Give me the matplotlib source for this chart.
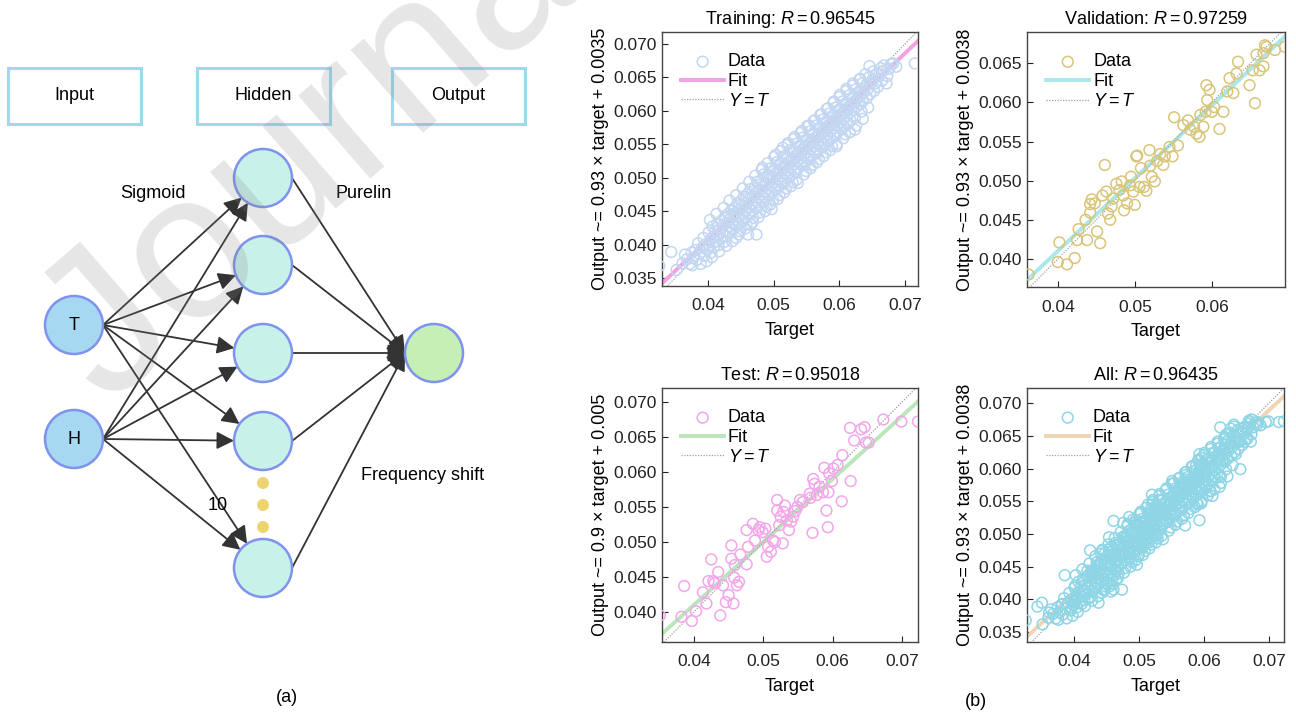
import numpy as np
import matplotlib.pyplot as plt
from matplotlib.patches import Circle, Rectangle, FancyArrowPatch
from matplotlib.ticker import FormatStrFormatter

plt.rcParams['font.family'] = ['Liberation Sans', 'DejaVu Sans']
plt.rcParams['mathtext.fontset'] = 'custom'
plt.rcParams['mathtext.rm'] = 'Liberation Sans'
plt.rcParams['mathtext.it'] = 'Liberation Sans:italic'

# ---- regression data (target, output) ----
train_pts = np.array([
    (0.0326, 0.0368), (0.0344, 0.0389), (0.0352, 0.0362),
    (0.0361, 0.0372), (0.0365, 0.0385), (0.0368, 0.0378),
    (0.0372, 0.0371), (0.0375, 0.0388), (0.0378, 0.0380), (0.0376, 0.0369),
    (0.0381, 0.0392), (0.0383, 0.0377), (0.0385, 0.0402), (0.0387, 0.0386), (0.0389, 0.0371),
    (0.0391, 0.0395), (0.0393, 0.0410), (0.0395, 0.0383), (0.0396, 0.0400), (0.0398, 0.0375), (0.0399, 0.0392),
    (0.0401, 0.0418), (0.0402, 0.0399), (0.0404, 0.0408), (0.0405, 0.0388), (0.0407, 0.0427), (0.0408, 0.0412), (0.0409, 0.0396),
    (0.0411, 0.0420), (0.0412, 0.0404), (0.0414, 0.0431), (0.0415, 0.0413), (0.0416, 0.0399), (0.0418, 0.0423), (0.0419, 0.0408),
    (0.0421, 0.0436), (0.0422, 0.0418), (0.0423, 0.0429), (0.0425, 0.0404), (0.0426, 0.0442), (0.0427, 0.0421), (0.0428, 0.0432), (0.0429, 0.0412),
    (0.0431, 0.0446), (0.0432, 0.0427), (0.0433, 0.0438), (0.0434, 0.0418), (0.0436, 0.0452), (0.0437, 0.0433), (0.0438, 0.0423), (0.0439, 0.0444), (0.0443, 0.0410),
    (0.0441, 0.0455), (0.0442, 0.0437), (0.0443, 0.0448), (0.0444, 0.0428), (0.0445, 0.0462), (0.0446, 0.0441), (0.0447, 0.0431), (0.0448, 0.0452), (0.0449, 0.0420),
    (0.0451, 0.0466), (0.0452, 0.0447), (0.0453, 0.0458), (0.0454, 0.0436), (0.0455, 0.0472), (0.0456, 0.0450), (0.0457, 0.0441), (0.0458, 0.0462), (0.0459, 0.0430), (0.0461, 0.0415),
    (0.0461, 0.0476), (0.0462, 0.0456), (0.0463, 0.0468), (0.0464, 0.0446), (0.0465, 0.0483), (0.0466, 0.0460), (0.0467, 0.0451), (0.0468, 0.0472), (0.0469, 0.0440), (0.0465, 0.0430),
    (0.0471, 0.0485), (0.0472, 0.0466), (0.0473, 0.0477), (0.0474, 0.0455), (0.0475, 0.0494), (0.0476, 0.0470), (0.0477, 0.0460), (0.0478, 0.0482), (0.0474, 0.0415), (0.0479, 0.0448),
    (0.0481, 0.0495), (0.0482, 0.0475), (0.0483, 0.0487), (0.0484, 0.0464), (0.0485, 0.0505), (0.0486, 0.0479), (0.0487, 0.0469), (0.0488, 0.0492), (0.0489, 0.0457), (0.0483, 0.0515),
    (0.0491, 0.0504), (0.0492, 0.0484), (0.0493, 0.0497), (0.0494, 0.0473), (0.0495, 0.0514), (0.0496, 0.0489), (0.0497, 0.0478), (0.0498, 0.0502), (0.0499, 0.0466), (0.0497, 0.0453),
    (0.0501, 0.0513), (0.0502, 0.0493), (0.0503, 0.0506), (0.0504, 0.0482), (0.0505, 0.0523), (0.0506, 0.0498), (0.0507, 0.0487), (0.0508, 0.0511), (0.0509, 0.0474), (0.0503, 0.0534),
    (0.0511, 0.0522), (0.0512, 0.0502), (0.0513, 0.0515), (0.0514, 0.0491), (0.0515, 0.0532), (0.0516, 0.0507), (0.0517, 0.0496), (0.0518, 0.0520), (0.0519, 0.0484), (0.0514, 0.0545),
    (0.0521, 0.0531), (0.0522, 0.0511), (0.0523, 0.0524), (0.0524, 0.0500), (0.0525, 0.0541), (0.0526, 0.0516), (0.0527, 0.0505), (0.0528, 0.0529), (0.0529, 0.0493), (0.0522, 0.0552),
    (0.0531, 0.0540), (0.0532, 0.0520), (0.0533, 0.0533), (0.0534, 0.0509), (0.0535, 0.0551), (0.0536, 0.0525), (0.0537, 0.0514), (0.0538, 0.0538), (0.0537, 0.0492), (0.0532, 0.0561),
    (0.0541, 0.0549), (0.0542, 0.0529), (0.0543, 0.0542), (0.0544, 0.0518), (0.0545, 0.0560), (0.0546, 0.0534), (0.0547, 0.0523), (0.0548, 0.0547), (0.0549, 0.0510), (0.0543, 0.0570),
    (0.0551, 0.0558), (0.0552, 0.0538), (0.0553, 0.0551), (0.0554, 0.0527), (0.0555, 0.0569), (0.0556, 0.0543), (0.0557, 0.0532), (0.0558, 0.0556), (0.0559, 0.0519), (0.0554, 0.0578),
    (0.0561, 0.0567), (0.0562, 0.0547), (0.0563, 0.0560), (0.0564, 0.0536), (0.0565, 0.0578), (0.0566, 0.0552), (0.0567, 0.0541), (0.0568, 0.0565), (0.0569, 0.0528), (0.0563, 0.0586),
    (0.0571, 0.0576), (0.0572, 0.0556), (0.0573, 0.0569), (0.0574, 0.0545), (0.0575, 0.0587), (0.0576, 0.0561), (0.0577, 0.0550), (0.0578, 0.0574), (0.0579, 0.0538), (0.0573, 0.0595),
    (0.0581, 0.0585), (0.0582, 0.0565), (0.0583, 0.0578), (0.0584, 0.0554), (0.0585, 0.0596), (0.0586, 0.0570), (0.0587, 0.0559), (0.0588, 0.0583), (0.0589, 0.0547), (0.0583, 0.0604),
    (0.0591, 0.0594), (0.0592, 0.0574), (0.0593, 0.0587), (0.0594, 0.0563), (0.0595, 0.0605), (0.0596, 0.0579), (0.0597, 0.0568), (0.0598, 0.0592), (0.0596, 0.0547), (0.0592, 0.0614),
    (0.0601, 0.0603), (0.0602, 0.0583), (0.0603, 0.0596), (0.0604, 0.0572), (0.0605, 0.0614), (0.0606, 0.0588), (0.0607, 0.0577), (0.0608, 0.0601), (0.0609, 0.0565), (0.0601, 0.0624),
    (0.0611, 0.0612), (0.0612, 0.0592), (0.0613, 0.0605), (0.0614, 0.0581), (0.0615, 0.0623), (0.0616, 0.0597), (0.0617, 0.0586), (0.0618, 0.0610), (0.0611, 0.0633),
    (0.0621, 0.0621), (0.0622, 0.0601), (0.0623, 0.0614), (0.0624, 0.0590), (0.0625, 0.0632), (0.0626, 0.0606), (0.0624, 0.0572), (0.0628, 0.0619), (0.0621, 0.0641),
    (0.0631, 0.0630), (0.0632, 0.0610), (0.0633, 0.0623), (0.0634, 0.0599), (0.0635, 0.0641), (0.0636, 0.0615), (0.0638, 0.0628), (0.0632, 0.0648),
    (0.0641, 0.0639), (0.0642, 0.0619), (0.0643, 0.0632), (0.0645, 0.0650), (0.0646, 0.0667), (0.0647, 0.0625), (0.0648, 0.0641),
    (0.0651, 0.0647), (0.0652, 0.0659), (0.0653, 0.0630), (0.0655, 0.0641), (0.0657, 0.0655), (0.0659, 0.0636),
    (0.0661, 0.0655), (0.0663, 0.0664), (0.0665, 0.0645), (0.0667, 0.0660), (0.0668, 0.0668), (0.0672, 0.0641),
    (0.0673, 0.0652), (0.0676, 0.0663), (0.0679, 0.0670), (0.0682, 0.0671), (0.0687, 0.0666), (0.0715, 0.0671),
    # outer edge of the band
    (0.0403, 0.0437), (0.0406, 0.0381), (0.0413, 0.0446), (0.0417, 0.0390),
    (0.0424, 0.0455), (0.0428, 0.0398), (0.0433, 0.0466), (0.0437, 0.0405),
    (0.0443, 0.0474), (0.0447, 0.0415), (0.0453, 0.0484), (0.0457, 0.0424),
    (0.0463, 0.0494), (0.0468, 0.0433), (0.0472, 0.0503), (0.0477, 0.0441),
    (0.0482, 0.0512), (0.0487, 0.0450), (0.0491, 0.0522), (0.0495, 0.0460),
    (0.0501, 0.0531), (0.0506, 0.0468), (0.0511, 0.0540), (0.0516, 0.0478),
    (0.0521, 0.0549), (0.0526, 0.0487), (0.0531, 0.0558), (0.0535, 0.0497),
    (0.0541, 0.0567), (0.0546, 0.0505), (0.0551, 0.0577), (0.0556, 0.0514),
    (0.0561, 0.0585), (0.0566, 0.0523), (0.0571, 0.0594), (0.0576, 0.0532),
    (0.0581, 0.0603), (0.0586, 0.0541), (0.0591, 0.0612), (0.0596, 0.0550),
    (0.0601, 0.0621), (0.0606, 0.0559), (0.0611, 0.0630), (0.0616, 0.0568),
    (0.0621, 0.0638), (0.0626, 0.0578), (0.0631, 0.0647), (0.0636, 0.0588),
    (0.0640, 0.0655), (0.0644, 0.0605),
])

val_pts = np.array([
    (0.0362, 0.0380), (0.0402, 0.0421), (0.0400, 0.0396), (0.0412, 0.0393), (0.0422, 0.0401),
    (0.0425, 0.0424), (0.0427, 0.0438), (0.0438, 0.0424), (0.0436, 0.0450), (0.0442, 0.0459),
    (0.0442, 0.0470), (0.0444, 0.0476), (0.0448, 0.0471), (0.0451, 0.0435), (0.0455, 0.0420),
    (0.0458, 0.0481), (0.0461, 0.0520), (0.0463, 0.0486), (0.0465, 0.0458), (0.0468, 0.0450),
    (0.0470, 0.0467), (0.0472, 0.0477), (0.0476, 0.0496), (0.0480, 0.0488), (0.0483, 0.0499),
    (0.0485, 0.0481), (0.0486, 0.0462), (0.0490, 0.0471), (0.0494, 0.0494), (0.0495, 0.0505),
    (0.0498, 0.0486), (0.0500, 0.0469), (0.0502, 0.0531), (0.0503, 0.0532), (0.0506, 0.0492),
    (0.0508, 0.0516), (0.0512, 0.0492), (0.0515, 0.0487), (0.0519, 0.0539), (0.0520, 0.0519),
    (0.0522, 0.0505), (0.0526, 0.0499), (0.0529, 0.0525), (0.0533, 0.0534), (0.0537, 0.0520),
    (0.0539, 0.0531), (0.0545, 0.0543), (0.0549, 0.0531), (0.0556, 0.0545), (0.0551, 0.0581),
    (0.0563, 0.0571), (0.0569, 0.0577), (0.0572, 0.0565), (0.0577, 0.0569), (0.0580, 0.0560),
    (0.0584, 0.0556), (0.0585, 0.0584), (0.0589, 0.0569), (0.0592, 0.0588), (0.0594, 0.0603),
    (0.0593, 0.0622), (0.0597, 0.0616), (0.0600, 0.0588), (0.0603, 0.0594), (0.0610, 0.0566),
    (0.0615, 0.0588), (0.0620, 0.0614), (0.0623, 0.0631), (0.0628, 0.0612), (0.0632, 0.0637),
    (0.0634, 0.0652), (0.0649, 0.0622), (0.0656, 0.0599), (0.0658, 0.0661), (0.0662, 0.0641),
    (0.0667, 0.0646), (0.0669, 0.0673), (0.0671, 0.0671), (0.0682, 0.0667), (0.0695, 0.0671),
    (0.0653, 0.0641), (0.0667, 0.0663),
])

test_pts = np.array([
    (0.0351, 0.0395), (0.0382, 0.0393), (0.0386, 0.0437), (0.0397, 0.0387), (0.0403, 0.0401),
    (0.0413, 0.0428), (0.0418, 0.0412), (0.0421, 0.0444), (0.0425, 0.0475), (0.0428, 0.0444),
    (0.0430, 0.0441), (0.0435, 0.0457), (0.0438, 0.0395), (0.0442, 0.0438), (0.0446, 0.0414),
    (0.0450, 0.0424), (0.0454, 0.0495), (0.0454, 0.0476), (0.0457, 0.0412), (0.0458, 0.0449),
    (0.0459, 0.0467), (0.0462, 0.0438), (0.0465, 0.0443), (0.0467, 0.0482), (0.0476, 0.0468),
    (0.0476, 0.0517), (0.0478, 0.0493), (0.0485, 0.0526), (0.0488, 0.0502), (0.0493, 0.0517),
    (0.0495, 0.0521), (0.0499, 0.0514), (0.0503, 0.0519), (0.0505, 0.0479), (0.0507, 0.0493),
    (0.0511, 0.0486), (0.0514, 0.0502), (0.0517, 0.0500), (0.0520, 0.0560), (0.0520, 0.0545),
    (0.0523, 0.0524), (0.0525, 0.0536), (0.0528, 0.0498), (0.0529, 0.0543), (0.0531, 0.0552),
    (0.0534, 0.0531), (0.0537, 0.0517), (0.0540, 0.0529), (0.0543, 0.0536), (0.0546, 0.0544),
    (0.0549, 0.0550), (0.0553, 0.0560), (0.0557, 0.0557), (0.0567, 0.0569), (0.0568, 0.0563),
    (0.0571, 0.0513), (0.0572, 0.0590), (0.0574, 0.0583), (0.0577, 0.0567), (0.0581, 0.0579),
    (0.0586, 0.0571), (0.0588, 0.0606), (0.0591, 0.0545), (0.0593, 0.0521), (0.0594, 0.0571),
    (0.0595, 0.0598), (0.0599, 0.0587), (0.0601, 0.0605), (0.0607, 0.0610), (0.0613, 0.0558),
    (0.0614, 0.0624), (0.0626, 0.0587), (0.0625, 0.0663), (0.0631, 0.0645), (0.0641, 0.0661),
    (0.0646, 0.0664), (0.0648, 0.0642), (0.0652, 0.0642), (0.0673, 0.0675), (0.0699, 0.0672),
    (0.0723, 0.0672),
])

all_pts = np.concatenate([train_pts, val_pts, test_pts])

set_names = ['Training', 'Validation', 'Test', 'All']
r_values = [0.96545, 0.97259, 0.95018, 0.96435]
slopes = [0.93, 0.93, 0.9, 0.93]
intercepts = [0.0035, 0.0038, 0.005, 0.0038]
point_sets = [train_pts, val_pts, test_pts, all_pts]

data_colors = ['#c3d7f2', '#d9c57a', '#f3a6ea', '#8ed5e6']
fit_colors = ['#f2a2e4', '#a9e8ea', '#b9e7b9', '#f0d5b5']

# axes placement / limits (figure pixels 1296 x 715)
ax_boxes = [(662, 32, 918, 286), (1027, 32, 1285, 287),
            (662, 388, 918, 642), (1027, 388, 1284, 642)]
x_lims = [(0.033, 0.072), (0.036, 0.0695), (0.0354, 0.0723), (0.0328, 0.0723)]
y_lims = [(0.0338, 0.0718), (0.0364, 0.069), (0.0357, 0.072), (0.0335, 0.0723)]
x_ticks = [[0.04, 0.05, 0.06, 0.07], [0.04, 0.05, 0.06],
           [0.04, 0.05, 0.06, 0.07], [0.04, 0.05, 0.06, 0.07]]
y_ticks = [[0.035, 0.040, 0.045, 0.050, 0.055, 0.060, 0.065, 0.070],
           [0.040, 0.045, 0.050, 0.055, 0.060, 0.065],
           [0.040, 0.045, 0.050, 0.055, 0.060, 0.065, 0.070],
           [0.035, 0.040, 0.045, 0.050, 0.055, 0.060, 0.065, 0.070]]

# ---- network diagram layout (pixels) ----
layer_boxes = [('Input', 8, 68, 141, 124), ('Hidden', 197, 68, 330, 124),
               ('Output', 392, 68, 525, 124)]
input_nodes = [('T', 74, 325), ('H', 74, 439)]
hidden_nodes = [(263, 178), (263, 265), (263, 353), (263, 441), (263, 568)]
output_node = (434, 353)
dots_y = [483, 505, 527]
node_r = 29

W, H = 1296, 715
fig = plt.figure(figsize=(W / 100, H / 100), dpi=100)

ax0 = fig.add_axes([0, 0, 1, 1])
ax0.set_xlim(0, W)
ax0.set_ylim(H, 0)
ax0.axis('off')

for label, x0, y0, x1, y1 in layer_boxes:
    ax0.add_patch(Rectangle((x0, y0), x1 - x0, y1 - y0, fill=False,
                            ec='#9fd9ee', lw=2.2))
    ax0.text((x0 + x1) / 2, (y0 + y1) / 2, label, ha='center', va='center',
             fontsize=13)

edge_kw = dict(ec='#7f92ee', lw=1.8, zorder=3)
arrow_kw = dict(arrowstyle='-|>,head_length=0.75,head_width=0.38',
                color='#333333', lw=1.3, shrinkA=0, shrinkB=0, zorder=2,
                mutation_scale=14)

for lab, x, y in input_nodes:
    ax0.add_patch(Circle((x, y), node_r, fc='#a7d8f2', **edge_kw))
    ax0.text(x, y, lab, ha='center', va='center', fontsize=13, zorder=4)
    sx, sy = x + node_r, y
    for hx, hy in hidden_nodes:
        d = np.hypot(hx - sx, hy - sy)
        ex, ey = hx - node_r * (hx - sx) / d, hy - node_r * (hy - sy) / d
        ax0.add_patch(FancyArrowPatch((sx, sy), (ex, ey), **arrow_kw))

ox, oy = output_node
for hx, hy in hidden_nodes:
    ax0.add_patch(Circle((hx, hy), node_r, fc='#c8f1ea', **edge_kw))
    ax0.add_patch(FancyArrowPatch((hx + node_r, hy), (ox - node_r, oy), **arrow_kw))
ax0.add_patch(Circle((ox, oy), node_r, fc='#c6efb6', **edge_kw))
for dy in dots_y:
    ax0.add_patch(Circle((263, dy), 6, fc='#ecd46e', ec='none', zorder=3))

ax0.text(153, 193, 'Sigmoid', ha='center', va='center', fontsize=13)
ax0.text(364, 193, 'Purelin', ha='center', va='center', fontsize=13)
ax0.text(423, 476, 'Frequency shift', ha='center', va='center', fontsize=13)
ax0.text(218, 505, '10', ha='center', va='center', fontsize=13)
ax0.text(287, 697, '(a)', ha='center', va='center', fontsize=13)
ax0.text(976, 702, '(b)', ha='center', va='center', fontsize=13)

# watermark
ax0.text(106, 405, 'Journal', rotation=41, rotation_mode='anchor',
         ha='left', va='baseline', fontsize=150, color='#808080', alpha=0.2,
         zorder=10)

# ---- regression panels ----
for i in range(4):
    x0, y0, x1, y1 = ax_boxes[i]
    ax = fig.add_axes([x0 / W, 1 - y1 / H, (x1 - x0) / W, (y1 - y0) / H])
    pts = point_sets[i]
    xl = np.array(x_lims[i])

    ax.plot(xl, slopes[i] * xl + intercepts[i], color=fit_colors[i], lw=2.8,
            label='Fit', zorder=2)
    ax.plot(xl, xl, ls=(0, (1, 1.2)), color='#a0a0a0', lw=0.9,
            label='$Y = T$', zorder=2)
    ax.scatter(pts[:, 0], pts[:, 1], s=60, facecolors='none',
               edgecolors=data_colors[i], linewidths=1.1, label='Data', zorder=3)

    ax.set_xlim(*x_lims[i])
    ax.set_ylim(*y_lims[i])
    ax.set_xticks(x_ticks[i])
    ax.set_yticks(y_ticks[i])
    ax.xaxis.set_major_formatter(FormatStrFormatter('%.2f'))
    ax.yaxis.set_major_formatter(FormatStrFormatter('%.3f'))
    ax.tick_params(direction='in', length=4, width=0.8, labelsize=12.5,
                   colors='#222222')
    ax.tick_params(axis='x', pad=9)
    for sp in ax.spines.values():
        sp.set_color('#444444')
        sp.set_linewidth(1.0)

    ax.set_title(f'{set_names[i]}: $R = {r_values[i]}$', fontsize=13, pad=6)
    ax.set_xlabel('Target', fontsize=13, labelpad=6)
    ax.set_ylabel(f'Output ~= {slopes[i]} × target + {intercepts[i]}',
                  fontsize=13, labelpad=3)

    h, l = ax.get_legend_handles_labels()
    ax.legend([h[2], h[0], h[1]], [l[2], l[0], l[1]], loc='upper left',
              bbox_to_anchor=(0.06, 0.93), frameon=False, fontsize=13,
              handlelength=2.4, handletextpad=0.2, labelspacing=0.15,
              borderaxespad=0, borderpad=0.2)

fig.savefig('out.png', dpi=100)
